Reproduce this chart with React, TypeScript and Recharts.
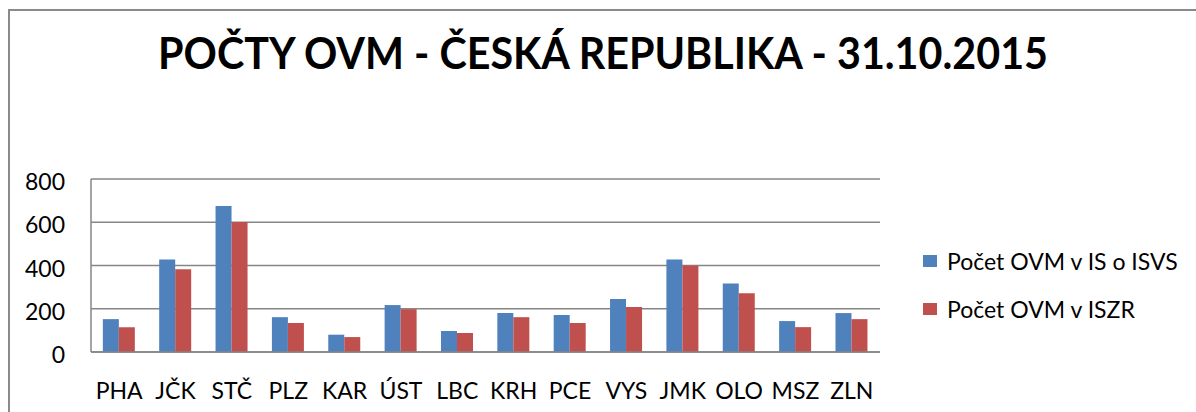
import React from 'react';
import { BarChart, Bar, XAxis, YAxis, CartesianGrid, Legend } from 'recharts';

const regions = ['PHA', 'JČK', 'STČ', 'PLZ', 'KAR', 'ÚST', 'LBC', 'KRH', 'PCE', 'VYS', 'JMK', 'OLO', 'MSZ', 'ZLN'];
const ovmIsvs = [152, 428, 675, 161, 80, 217, 97, 180, 171, 245, 428, 317, 143, 180];
const ovmIszr = [115, 383, 601, 134, 69, 198, 88, 161, 134, 208, 400, 272, 115, 152];
const yTicks = [0, 200, 400, 600, 800];

const seriesNames = ['Počet OVM v IS o ISVS', 'Počet OVM v ISZR'];
const BLUE = '#4F81BD';
const RED = '#C0504D';
const GRID = '#868686';
const FONT = 'Lato, "Open Sans", sans-serif';

const chartData = regions.map((name, i) => ({
    name,
    isvs: ovmIsvs[i],
    iszr: ovmIszr[i],
}));

const LegendBox = () => {
    const colors = [BLUE, RED];
    return (
        <div style={{ fontFamily: FONT, fontSize: 23, color: '#000' }}>
            {seriesNames.map((label, i) => (
                <div
                    key={label}
                    style={{ display: 'flex', alignItems: 'center', height: 24, marginBottom: 24, whiteSpace: 'nowrap' }}
                >
                    <div style={{ width: 14, height: 12, background: colors[i], marginRight: 10 }} />
                    <span style={{ lineHeight: '24px' }}>{label}</span>
                </div>
            ))}
        </div>
    );
};

export default function App() {
    return (
        <div style={{ position: 'fixed', left: 0, top: 0, width: 1196, height: 412, background: '#fff', overflow: 'hidden' }}>
            {/* chart frame, only top and left edges are visible */}
            <div
                style={{
                    position: 'absolute',
                    left: 8,
                    top: 9,
                    width: 1200,
                    height: 420,
                    borderTop: '2px solid #8a8a8a',
                    borderLeft: '2px solid #8a8a8a',
                }}
            />
            <svg style={{ position: 'absolute', left: 0, top: 0 }} width={1196} height={100}>
                <text
                    x={158}
                    y={69}
                    textLength={890}
                    lengthAdjust="spacingAndGlyphs"
                    fontFamily={FONT}
                    fontWeight={700}
                    fontSize={44}
                    fill="#000"
                >
                    POČTY OVM - ČESKÁ REPUBLIKA - 31.10.2015
                </text>
            </svg>
            <div style={{ position: 'absolute', left: 0, top: 0 }}>
                <BarChart
                    width={1196}
                    height={412}
                    data={chartData}
                    margin={{ top: 179, right: 316, left: 0, bottom: 0 }}
                    barCategoryGap="21%"
                    barGap={0}
                >
                    <CartesianGrid vertical={false} stroke={GRID} strokeWidth={1.5} />
                    <XAxis
                        dataKey="name"
                        height={60}
                        axisLine={{ stroke: GRID, strokeWidth: 1.5 }}
                        tickLine={false}
                        tickSize={0}
                        tickMargin={31}
                        interval={0}
                        tick={{ fill: '#000', fontSize: 23, fontFamily: FONT }}
                    />
                    <YAxis
                        width={91}
                        domain={[0, 800]}
                        ticks={yTicks}
                        axisLine={{ stroke: GRID, strokeWidth: 1.5 }}
                        tickLine={false}
                        tickSize={0}
                        tickMargin={26}
                        tick={{ fill: '#000', fontSize: 23, fontFamily: FONT, dy: 3 }}
                    />
                    <Legend
                        layout="vertical"
                        align="center"
                        verticalAlign="middle"
                        wrapperStyle={{ left: 923, top: 249, width: 270 }}
                        content={<LegendBox />}
                    />
                    <Bar dataKey="isvs" name={seriesNames[0]} fill={BLUE} isAnimationActive={false} />
                    <Bar dataKey="iszr" name={seriesNames[1]} fill={RED} isAnimationActive={false} />
                </BarChart>
            </div>
        </div>
    );
}
